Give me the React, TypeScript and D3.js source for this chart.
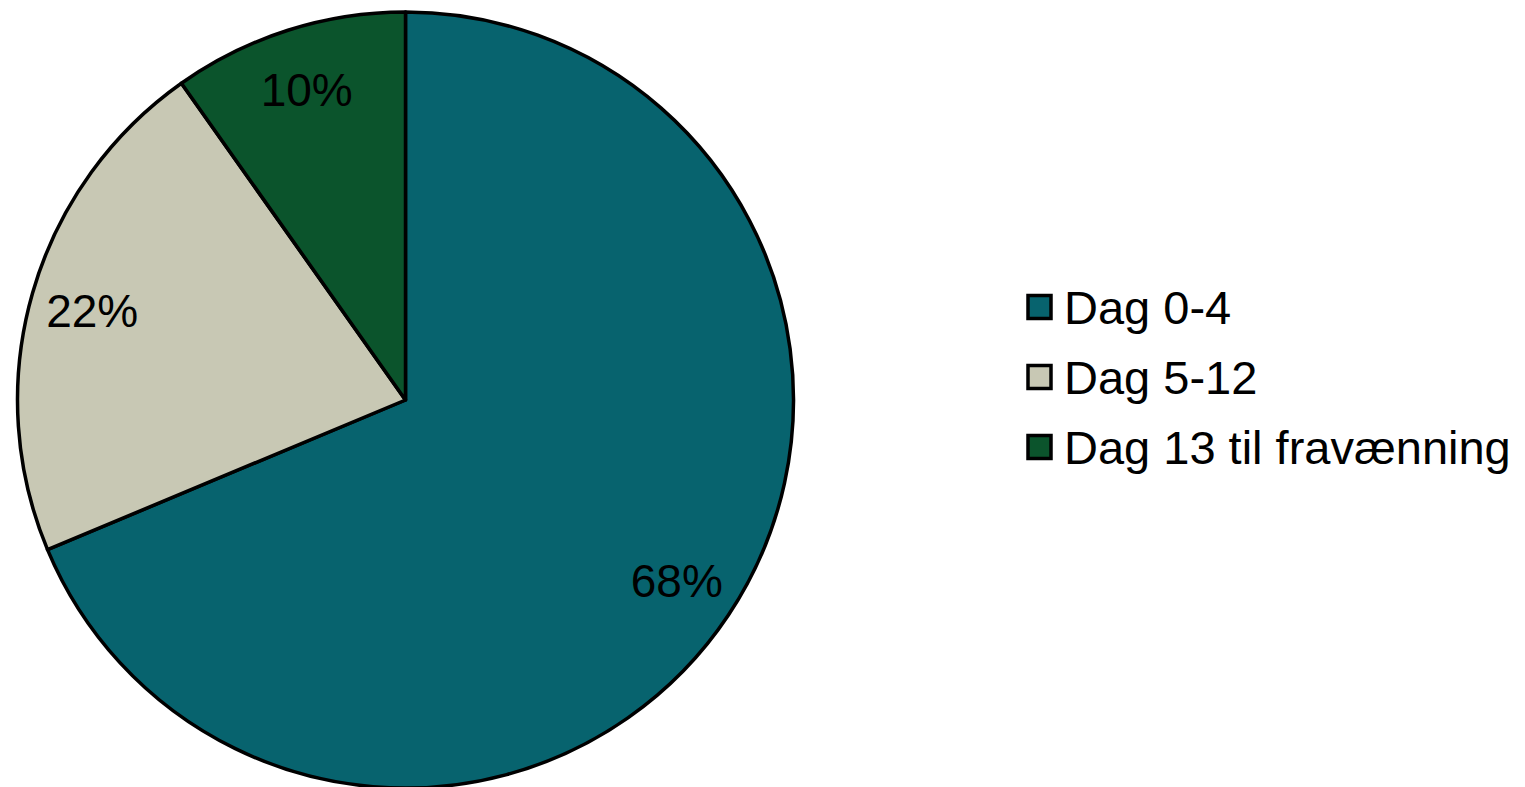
import React from "react";
import * as d3 from "d3";

const categories = ["Dag 0-4", "Dag 5-12", "Dag 13 til fravænning"];
const values = [68.7, 21.5, 9.8];
const valueLabels = ["68%", "22%", "10%"];
const colors = ["#07636e", "#c8c8b4", "#0b542c"];

const W = 1525;
const H = 787;
const cx = 405.5;
const cy = 400;
const R = 388;

export default function App() {
  const pie = d3.pie<number>().sort(null).value((d) => d)(values);
  const arc = d3.arc<d3.PieArcDatum<number>>().innerRadius(0).outerRadius(R);
  const labelArc = d3.arc<d3.PieArcDatum<number>>().innerRadius(R * 0.84).outerRadius(R * 0.84);
  const legendY = d3.scaleBand<number>().domain(d3.range(categories.length)).range([272, 482]);
  return (
    <svg
      width={W}
      height={H}
      style={{ position: "absolute", left: 0, top: 0 }}
      fontFamily="'Liberation Sans', Arial, sans-serif"
    >
      <rect width={W} height={H} fill="#fff" />
      <g transform={`translate(${cx},${cy})`}>
        {pie.map((p, i) => (
          <path key={i} d={arc(p) || ""} fill={colors[i]} stroke="#000" strokeWidth={3.5} strokeLinejoin="round" />
        ))}
        {pie.map((p, i) => {
          const [x, y] = labelArc.centroid(p);
          return (
            <text key={i} x={x} y={y} dy="0.36em" textAnchor="middle" fontSize={46} fill="#000">
              {valueLabels[i]}
            </text>
          );
        })}
      </g>
      {categories.map((c, i) => {
        const y = (legendY(i) || 0) + legendY.bandwidth() / 2;
        return (
          <g key={c}>
            <rect x={1028} y={y - 11.5} width={23} height={23} fill={colors[i]} stroke="#000" strokeWidth={3.5} />
            <text x={1064} y={y} dy="0.36em" fontSize={47} fill="#000">
              {c}
            </text>
          </g>
        );
      })}
    </svg>
  );
}
